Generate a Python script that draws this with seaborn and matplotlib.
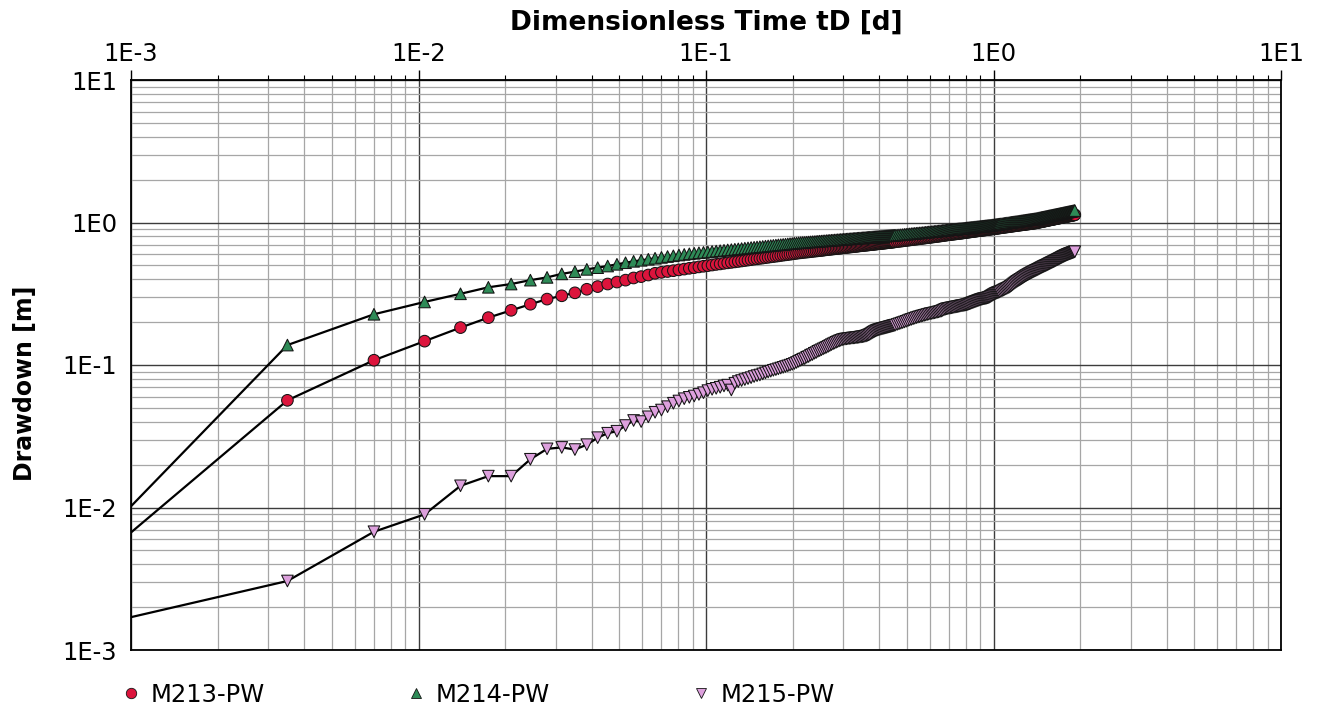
import numpy as np
import pandas as pd
import matplotlib
matplotlib.use("Agg")
import matplotlib.pyplot as plt
import seaborn as sns
from matplotlib.ticker import FixedLocator, FixedFormatter, LogLocator, NullFormatter
from matplotlib.lines import Line2D

# ---------------- data ----------------
SERIES = ["M213-PW", "M214-PW", "M215-PW"]

# dimensionless time of each plotted sample [d]
TIME_D = [
    0.0035, 0.007, 0.0105, 0.014, 0.0175, 0.021, 0.0245, 0.028, 0.0315, 0.035,
    0.0385, 0.042, 0.0455, 0.049, 0.0525, 0.056, 0.0595, 0.063, 0.0665, 0.07,
    0.0735, 0.077, 0.0805, 0.084, 0.0875, 0.091, 0.0945, 0.098, 0.1015, 0.105,
    0.1085, 0.112, 0.1155, 0.119, 0.1225, 0.126, 0.1295, 0.133, 0.1365, 0.14,
    0.1435, 0.147, 0.1505, 0.154, 0.1575, 0.161, 0.1645, 0.168, 0.1715, 0.175,
    0.1785, 0.182, 0.1855, 0.189, 0.1925, 0.196, 0.1995, 0.203, 0.2065, 0.21,
    0.2135, 0.217, 0.2205, 0.224, 0.2275, 0.231, 0.2345, 0.238, 0.2415, 0.245,
    0.2485, 0.252, 0.2555, 0.259, 0.2625, 0.266, 0.2695, 0.273, 0.2765, 0.28,
    0.2835, 0.287, 0.2905, 0.294, 0.2975, 0.301, 0.3045, 0.308, 0.3115, 0.315,
    0.3185, 0.322, 0.3255, 0.329, 0.3325, 0.336, 0.3395, 0.343, 0.3465, 0.35,
    0.3535, 0.357, 0.3605, 0.364, 0.3675, 0.371, 0.3745, 0.378, 0.3815, 0.385,
    0.3885, 0.392, 0.3955, 0.399, 0.4025, 0.406, 0.4095, 0.413, 0.4165, 0.42,
    0.4235, 0.427, 0.4305, 0.434, 0.4375, 0.441, 0.4445, 0.448, 0.4515, 0.455,
    0.462, 0.469, 0.476, 0.483, 0.49, 0.497, 0.504, 0.511, 0.518, 0.525,
    0.532, 0.539, 0.546, 0.553, 0.56, 0.567, 0.574, 0.581, 0.588, 0.595,
    0.602, 0.609, 0.616, 0.623, 0.63, 0.637, 0.644, 0.651, 0.658, 0.665,
    0.672, 0.679, 0.686, 0.693, 0.70, 0.707, 0.714, 0.721, 0.728, 0.735,
    0.742, 0.749, 0.756, 0.763, 0.77, 0.777, 0.784, 0.791, 0.798, 0.805,
    0.812, 0.819, 0.826, 0.833, 0.84, 0.847, 0.854, 0.861, 0.868, 0.875,
    0.882, 0.889, 0.896, 0.903, 0.91, 0.917, 0.924, 0.931, 0.938, 0.945,
    0.952, 0.959, 0.966, 0.973, 0.98, 0.987, 0.994, 1.001, 1.008, 1.015,
    1.022, 1.029, 1.036, 1.043, 1.05,
    1.0605, 1.071, 1.0815, 1.092, 1.1025, 1.113, 1.1235, 1.134, 1.1445, 1.155,
    1.1655, 1.176, 1.1865, 1.197, 1.2075, 1.218, 1.2285, 1.239, 1.2495, 1.26,
    1.2705, 1.281, 1.2915, 1.302, 1.3125, 1.323, 1.3335, 1.344, 1.3545, 1.365,
    1.3755, 1.386, 1.3965, 1.407, 1.4175, 1.428, 1.4385, 1.449, 1.4595, 1.47,
    1.4805, 1.491, 1.5015, 1.512, 1.5225, 1.533, 1.5435, 1.554, 1.5645, 1.575,
    1.5855, 1.596, 1.6065, 1.617, 1.6275, 1.638, 1.6485, 1.659, 1.6695, 1.68,
    1.6905, 1.701, 1.7115, 1.722, 1.7325, 1.743, 1.7535, 1.764, 1.7745, 1.785,
    1.7955, 1.806, 1.8165, 1.827, 1.8375, 1.848, 1.8585, 1.869, 1.8795, 1.89,
    1.9005, 1.911, 1.918,
]

# drawdown [m]
DD_M213 = [
    0.0565, 0.108, 0.147, 0.183, 0.215, 0.242, 0.267, 0.290, 0.306, 0.321,
    0.340, 0.355, 0.370, 0.382, 0.394, 0.408, 0.417, 0.428, 0.440, 0.447,
    0.453, 0.459, 0.465, 0.471, 0.477, 0.482, 0.488, 0.493, 0.498, 0.503,
    0.508, 0.512, 0.517, 0.521, 0.525, 0.529, 0.533, 0.537, 0.541, 0.545,
    0.549, 0.553, 0.556, 0.560, 0.563, 0.567, 0.570, 0.574, 0.577, 0.580,
    0.583, 0.587, 0.590, 0.593, 0.596, 0.599, 0.602, 0.605, 0.608, 0.611,
    0.613, 0.616, 0.618, 0.620, 0.622, 0.624, 0.627, 0.629, 0.631, 0.633,
    0.635, 0.637, 0.639, 0.642, 0.644, 0.646, 0.648, 0.650, 0.652, 0.654,
    0.656, 0.658, 0.659, 0.661, 0.663, 0.665, 0.667, 0.668, 0.670, 0.672,
    0.674, 0.675, 0.677, 0.679, 0.680, 0.682, 0.684, 0.686, 0.687, 0.689,
    0.690, 0.692, 0.693, 0.695, 0.696, 0.698, 0.699, 0.701, 0.702, 0.704,
    0.705, 0.707, 0.708, 0.710, 0.711, 0.712, 0.714, 0.715, 0.717, 0.718,
    0.719, 0.721, 0.722, 0.724, 0.725, 0.726, 0.728, 0.729, 0.731, 0.732,
    0.735, 0.737, 0.740, 0.743, 0.746, 0.749, 0.751, 0.754, 0.757, 0.760,
    0.762, 0.765, 0.767, 0.770, 0.772, 0.775, 0.777, 0.780, 0.782, 0.784,
    0.787, 0.789, 0.792, 0.794, 0.797, 0.799, 0.801, 0.804, 0.806, 0.809,
    0.811, 0.814, 0.816, 0.819, 0.821, 0.823, 0.825, 0.827, 0.829, 0.831,
    0.833, 0.835, 0.837, 0.839, 0.841, 0.843, 0.845, 0.848, 0.850, 0.852,
    0.854, 0.856, 0.858, 0.860, 0.862, 0.864, 0.866, 0.868, 0.870, 0.872,
    0.874, 0.876, 0.877, 0.879, 0.881, 0.883, 0.884, 0.886, 0.888, 0.890,
    0.892, 0.894, 0.895, 0.897, 0.899, 0.901, 0.902, 0.904, 0.906, 0.908,
    0.909, 0.911, 0.913, 0.914, 0.916,
    0.918, 0.921, 0.923, 0.926, 0.928, 0.931, 0.933, 0.936, 0.938, 0.941,
    0.943, 0.946, 0.948, 0.950, 0.953, 0.955, 0.958, 0.960, 0.962, 0.964,
    0.966, 0.968, 0.971, 0.973, 0.975, 0.977, 0.979, 0.981, 0.984, 0.986,
    0.988, 0.990, 0.992, 0.995, 0.998, 1.001, 1.004, 1.007, 1.010, 1.013,
    1.016, 1.019, 1.022, 1.025, 1.028, 1.031, 1.034, 1.037, 1.040, 1.043,
    1.046, 1.049, 1.052, 1.054, 1.057, 1.060, 1.063, 1.066, 1.069, 1.072,
    1.074, 1.077, 1.080, 1.083, 1.086, 1.089, 1.092, 1.094, 1.097, 1.100,
    1.102, 1.105, 1.107, 1.110, 1.113, 1.115, 1.118, 1.120, 1.123, 1.126,
    1.128, 1.131, 1.133,
]
DD_M214 = [
    0.138, 0.227, 0.277, 0.316, 0.351, 0.370, 0.394, 0.412, 0.436, 0.452,
    0.469, 0.482, 0.495, 0.509, 0.522, 0.534, 0.543, 0.552, 0.561, 0.569,
    0.577, 0.584, 0.591, 0.597, 0.603, 0.608, 0.613, 0.617, 0.621, 0.626,
    0.630, 0.634, 0.638, 0.642, 0.645, 0.649, 0.653, 0.656, 0.660, 0.663,
    0.667, 0.670, 0.673, 0.676, 0.679, 0.682, 0.685, 0.688, 0.691, 0.694,
    0.697, 0.699, 0.702, 0.704, 0.707, 0.710, 0.712, 0.715, 0.717, 0.720,
    0.722, 0.724, 0.725, 0.727, 0.729, 0.731, 0.733, 0.734, 0.736, 0.738,
    0.740, 0.741, 0.743, 0.744, 0.746, 0.748, 0.749, 0.751, 0.752, 0.754,
    0.755, 0.757, 0.758, 0.760, 0.761, 0.762, 0.764, 0.765, 0.767, 0.768,
    0.769, 0.771, 0.772, 0.773, 0.775, 0.776, 0.777, 0.778, 0.780, 0.781,
    0.782, 0.783, 0.785, 0.786, 0.787, 0.788, 0.789, 0.791, 0.792, 0.793,
    0.794, 0.795, 0.796, 0.797, 0.798, 0.800, 0.801, 0.802, 0.803, 0.804,
    0.805, 0.806, 0.807, 0.808, 0.809, 0.810, 0.811, 0.812, 0.813, 0.814,
    0.816, 0.818, 0.820, 0.822, 0.825, 0.827, 0.830, 0.832, 0.835, 0.837,
    0.839, 0.841, 0.843, 0.845, 0.847, 0.849, 0.851, 0.854, 0.856, 0.858,
    0.860, 0.862, 0.864, 0.866, 0.868, 0.870, 0.872, 0.874, 0.876, 0.879,
    0.881, 0.883, 0.885, 0.887, 0.889, 0.891, 0.892, 0.894, 0.896, 0.898,
    0.899, 0.901, 0.903, 0.905, 0.906, 0.908, 0.910, 0.911, 0.913, 0.915,
    0.917, 0.918, 0.920, 0.922, 0.924, 0.925, 0.927, 0.929, 0.930, 0.932,
    0.934, 0.935, 0.937, 0.939, 0.940, 0.942, 0.943, 0.945, 0.947, 0.948,
    0.950, 0.952, 0.953, 0.955, 0.956, 0.958, 0.960, 0.961, 0.963, 0.965,
    0.967, 0.969, 0.971, 0.973, 0.975,
    0.978, 0.980, 0.983, 0.986, 0.989, 0.992, 0.994, 0.997, 1.000, 1.003,
    1.005, 1.008, 1.011, 1.014, 1.016, 1.019, 1.022, 1.024, 1.027, 1.029,
    1.032, 1.034, 1.037, 1.040, 1.042, 1.045, 1.047, 1.050, 1.052, 1.055,
    1.057, 1.060, 1.062, 1.065, 1.068, 1.072, 1.075, 1.078, 1.081, 1.085,
    1.088, 1.091, 1.094, 1.098, 1.101, 1.104, 1.107, 1.111, 1.114, 1.117,
    1.120, 1.123, 1.126, 1.129, 1.132, 1.135, 1.138, 1.141, 1.144, 1.147,
    1.150, 1.153, 1.156, 1.159, 1.162, 1.165, 1.168, 1.171, 1.174, 1.177,
    1.180, 1.183, 1.186, 1.188, 1.191, 1.194, 1.197, 1.200, 1.203, 1.205,
    1.208, 1.211, 1.213,
]
DD_M215 = [
    0.00305, 0.00676, 0.00895, 0.0142, 0.0166, 0.0166, 0.0218, 0.0258, 0.0264, 0.0255,
    0.0276, 0.0309, 0.0332, 0.0343, 0.0376, 0.0408, 0.0401, 0.0433, 0.0466, 0.0483,
    0.0510, 0.0539, 0.0559, 0.0580, 0.0593, 0.0606, 0.0622, 0.0639, 0.0661, 0.0675,
    0.0686, 0.0698, 0.0713, 0.0722, 0.0668, 0.0745, 0.0765, 0.0778, 0.0790, 0.0803,
    0.0815, 0.0830, 0.0842, 0.0851, 0.0866, 0.0880, 0.0893, 0.0905, 0.0918, 0.0928,
    0.0940, 0.0952, 0.0963, 0.0975, 0.0986, 0.0998, 0.1011, 0.1025, 0.1042, 0.1060,
    0.1078, 0.1098, 0.1108, 0.1133, 0.1146, 0.1172, 0.1184, 0.1208, 0.1222, 0.1247,
    0.1262, 0.1280, 0.1298, 0.1315, 0.1332, 0.1350, 0.1370, 0.1390, 0.1408, 0.1425,
    0.1443, 0.1460, 0.1475, 0.1490, 0.1503, 0.1515, 0.1520, 0.1525, 0.1530, 0.1535,
    0.1540, 0.1545, 0.1548, 0.1550, 0.1555, 0.1560, 0.1565, 0.1570, 0.1575, 0.1580,
    0.1586, 0.1593, 0.1600, 0.1613, 0.1626, 0.1640, 0.1660, 0.1680, 0.1700, 0.1717,
    0.1733, 0.1750, 0.1760, 0.1770, 0.1780, 0.1788, 0.1797, 0.1805, 0.1813, 0.1822,
    0.1830, 0.1838, 0.1847, 0.1855, 0.1863, 0.1872, 0.1880, 0.1888, 0.1897, 0.1905,
    0.1925, 0.1945, 0.1965, 0.1985, 0.2005, 0.2025, 0.2048, 0.2072, 0.2090, 0.2110,
    0.2130, 0.2150, 0.2167, 0.2183, 0.2200, 0.2215, 0.2230, 0.2245, 0.2260, 0.2275,
    0.2290, 0.2300, 0.2310, 0.2322, 0.2335, 0.2348, 0.2360, 0.2375, 0.2390, 0.2415,
    0.2440, 0.2460, 0.2480, 0.2490, 0.2500, 0.2510, 0.2520, 0.2530, 0.2540, 0.2550,
    0.2560, 0.2570, 0.2580, 0.2590, 0.2600, 0.2607, 0.2615, 0.2625, 0.2635, 0.2647,
    0.2660, 0.2675, 0.2690, 0.2710, 0.2730, 0.2745, 0.2762, 0.2780, 0.2797, 0.2813,
    0.2830, 0.2847, 0.2863, 0.2880, 0.2893, 0.2907, 0.2920, 0.2928, 0.2937, 0.2945,
    0.2960, 0.2975, 0.2990, 0.3017, 0.3043, 0.3070, 0.3097, 0.3123, 0.3150, 0.3170,
    0.3190, 0.3210, 0.3227, 0.3243, 0.3260,
    0.3290, 0.3320, 0.3355, 0.3390, 0.3420, 0.3450, 0.3485, 0.3520, 0.3565, 0.3610,
    0.3665, 0.3720, 0.3770, 0.3820, 0.3865, 0.3910, 0.3950, 0.3990, 0.4035, 0.4080,
    0.4125, 0.4170, 0.4215, 0.4255, 0.4295, 0.4335, 0.4372, 0.4410, 0.4448, 0.4485,
    0.4522, 0.4555, 0.4590, 0.4622, 0.4655, 0.4690, 0.4727, 0.4765, 0.4803, 0.4840,
    0.4875, 0.4910, 0.4943, 0.4970, 0.5003, 0.5037, 0.5072, 0.5110, 0.5147, 0.5180,
    0.5215, 0.5250, 0.5283, 0.5317, 0.5352, 0.5390, 0.5427, 0.5463, 0.5497, 0.5530,
    0.5567, 0.5605, 0.5642, 0.5680, 0.5717, 0.5752, 0.5787, 0.5820, 0.5853, 0.5887,
    0.5920, 0.5950, 0.5980, 0.6007, 0.6033, 0.6060, 0.6087, 0.6113, 0.6140, 0.6167,
    0.6193, 0.6225, 0.6240,
]

# the connecting lines enter the plot at its left edge (tD = 1E-3)
LINE_START_TIME = 0.001
LINE_START_DD = [0.00668, 0.0102, 0.0017]

TICK_VALUES = [1e-3, 1e-2, 1e-1, 1e0, 1e1]
TICK_LABELS = ["1E-3", "1E-2", "1E-1", "1E0", "1E1"]

X_TITLE = "Dimensionless Time tD [d]"
Y_TITLE = "Drawdown [m]"

# ---------------- tables ----------------
DD_BY_SERIES = [DD_M213, DD_M214, DD_M215]
line_parts, mark_parts = [], []
for name, dd, start in zip(SERIES, DD_BY_SERIES, LINE_START_DD):
    mark_parts.append(pd.DataFrame({"series": name, "t": TIME_D, "s": dd}))
    line_parts.append(pd.DataFrame({"series": name,
                                    "t": [LINE_START_TIME] + TIME_D,
                                    "s": [start] + dd}))
line_df = pd.concat(line_parts, ignore_index=True)
mark_df = pd.concat(mark_parts, ignore_index=True)

# ---------------- style ----------------
COLORS = {"M213-PW": "#DC143C", "M214-PW": "#2E8B57", "M215-PW": "#DDA0DD"}
MARKERS = {"M213-PW": "o", "M214-PW": "^", "M215-PW": "v"}
EDGE = "#141414"

sns.set_style("white")
plt.rcParams["font.family"] = ["DejaVu Sans"]
plt.rcParams["text.color"] = "black"
plt.rcParams["axes.labelcolor"] = "black"
plt.rcParams["xtick.color"] = "black"
plt.rcParams["ytick.color"] = "black"

W, H = 1322, 710
fig = plt.figure(figsize=(W / 100, H / 100), dpi=100)
ax = fig.add_axes([131 / W, 60 / H, 1150 / W, 570 / H])
ax.set_xscale("log")
ax.set_yscale("log")

sns.lineplot(data=line_df, x="t", y="s", units="series", estimator=None,
             sort=False, color="black", linewidth=1.6, ax=ax, legend=False,
             zorder=2)
sns.scatterplot(data=mark_df, x="t", y="s", hue="series", style="series",
                palette=COLORS, markers=MARKERS, s=70, edgecolor=EDGE,
                linewidth=0.75, ax=ax, legend=False, zorder=3)

ax.set_xlim(TICK_VALUES[0], TICK_VALUES[-1])
ax.set_ylim(TICK_VALUES[0], TICK_VALUES[-1])

for axis in (ax.xaxis, ax.yaxis):
    axis.set_major_locator(FixedLocator(TICK_VALUES))
    axis.set_major_formatter(FixedFormatter(TICK_LABELS))
    axis.set_minor_locator(LogLocator(base=10, subs=np.arange(2, 10)))
    axis.set_minor_formatter(NullFormatter())

ax.xaxis.tick_top()
ax.xaxis.set_label_position("top")
ax.tick_params(which="major", length=7, width=1.0, direction="out",
               color="black", labelsize=17.5, labelcolor="black")
ax.tick_params(which="minor", length=3.5, width=0.8, direction="out",
               color="black")
ax.tick_params(axis="x", which="major", pad=3)
ax.tick_params(axis="y", which="major", pad=3)

ax.grid(True, which="major", color="#3c3c3c", linewidth=1.0)
ax.grid(True, which="minor", color="#a6a6a6", linewidth=0.9)
ax.set_axisbelow(True)
for sp in ax.spines.values():
    sp.set_color("black")
    sp.set_linewidth(1.3)
    sp.set_visible(True)

ax.set_xlabel(X_TITLE, fontsize=19, fontweight="bold", color="black")
ax.set_ylabel(Y_TITLE, fontsize=17, fontweight="bold", color="black")
ax.xaxis.set_label_coords(0.5, 1.088)
ax.yaxis.set_label_coords(-0.0817, 0.467)

handles = [Line2D([], [], linestyle="none", marker=MARKERS[n],
                  markerfacecolor=COLORS[n], markeredgecolor=EDGE,
                  markeredgewidth=0.6, markersize=7.5) for n in SERIES]
leg = fig.legend(handles, SERIES, loc="center left",
                 bbox_to_anchor=(121 / W, 1 - 695 / H), ncol=3, frameon=False,
                 fontsize=17.5, handlelength=0.8, handletextpad=0.4,
                 columnspacing=5.84, borderpad=0, borderaxespad=0)
for txt in leg.get_texts():
    txt.set_color("black")

fig.savefig("out.png", dpi=100)
